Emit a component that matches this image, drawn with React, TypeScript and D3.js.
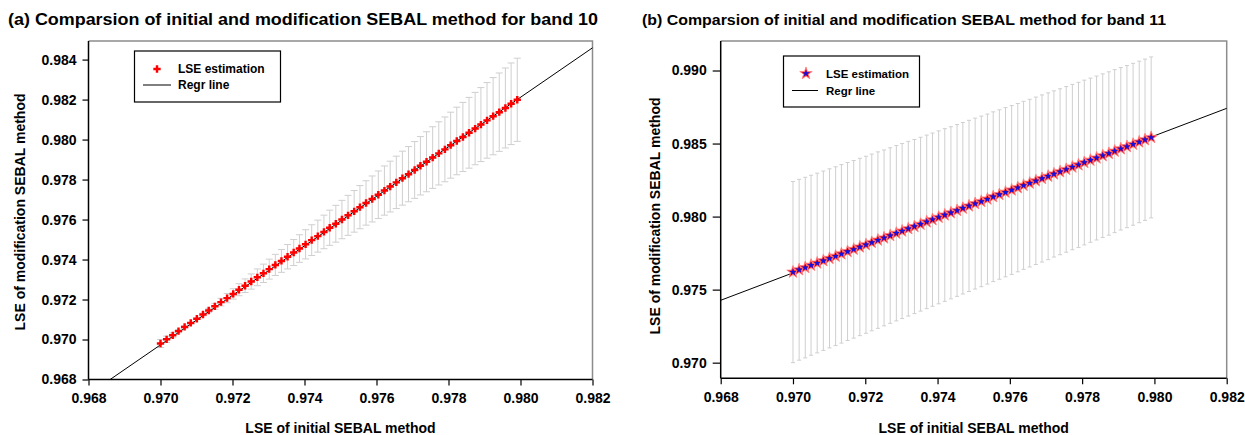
import React, { useEffect, useRef } from 'react';
import * as d3 from 'd3';

// LSE of the initial SEBAL method (x, same range in both panels)
const initialLse = [
  0.97, 0.97017, 0.97034, 0.9705, 0.97067, 0.97084, 0.97101, 0.97118, 0.97134, 0.97151,
  0.97168, 0.97185, 0.97202, 0.97218, 0.97235, 0.97252, 0.97269, 0.97286, 0.97302, 0.97319,
  0.97336, 0.97353, 0.9737, 0.97386, 0.97403, 0.9742, 0.97437, 0.97454, 0.9747, 0.97487,
  0.97504, 0.97521, 0.97538, 0.97554, 0.97571, 0.97588, 0.97605, 0.97622, 0.97638, 0.97655,
  0.97672, 0.97689, 0.97706, 0.97722, 0.97739, 0.97756, 0.97773, 0.9779, 0.97806, 0.97823,
  0.9784, 0.97857, 0.97874, 0.9789, 0.97907, 0.97924, 0.97941, 0.97958, 0.97974, 0.97991,
];

// band 10: modified SEBAL LSE and error half-widths
const band10Lse = [
  0.9698, 0.97001, 0.97021, 0.97042, 0.97063, 0.97083, 0.97104, 0.97125, 0.97145, 0.97166,
  0.97187, 0.97207, 0.97228, 0.97249, 0.97269, 0.9729, 0.97311, 0.97331, 0.97352, 0.97373,
  0.97393, 0.97414, 0.97435, 0.97455, 0.97476, 0.97497, 0.97517, 0.97538, 0.97559, 0.97579,
  0.976, 0.97621, 0.97641, 0.97662, 0.97683, 0.97703, 0.97724, 0.97745, 0.97765, 0.97786,
  0.97807, 0.97827, 0.97848, 0.97869, 0.97889, 0.9791, 0.97931, 0.97951, 0.97972, 0.97993,
  0.98013, 0.98034, 0.98055, 0.98075, 0.98096, 0.98117, 0.98137, 0.98158, 0.98179, 0.98199,
];
const band10Err = [
  0.0002, 0.00016, 0.00012, 0.00008, 0.00005, 0.00001, 0.00003, 0.00007, 0.00011, 0.00015,
  0.00019, 0.00023, 0.00026, 0.0003, 0.00034, 0.00038, 0.00042, 0.00046, 0.0005, 0.00053,
  0.00057, 0.00061, 0.00065, 0.00069, 0.00073, 0.00077, 0.0008, 0.00084, 0.00088, 0.00092,
  0.00096, 0.001, 0.00104, 0.00108, 0.00111, 0.00115, 0.00119, 0.00123, 0.00127, 0.00131,
  0.00135, 0.00138, 0.00142, 0.00146, 0.0015, 0.00154, 0.00158, 0.00162, 0.00165, 0.00169,
  0.00173, 0.00177, 0.00181, 0.00185, 0.00189, 0.00193, 0.00196, 0.002, 0.00204, 0.00208,
];

// band 11
const band11Lse = [
  0.9762, 0.97636, 0.97651, 0.97667, 0.97682, 0.97698, 0.97714, 0.97729, 0.97745, 0.97761,
  0.97776, 0.97792, 0.97807, 0.97823, 0.97839, 0.97854, 0.9787, 0.97886, 0.97901, 0.97917,
  0.97932, 0.97948, 0.97964, 0.97979, 0.97995, 0.98011, 0.98026, 0.98042, 0.98057, 0.98073,
  0.98089, 0.98104, 0.9812, 0.98136, 0.98151, 0.98167, 0.98182, 0.98198, 0.98214, 0.98229,
  0.98245, 0.98261, 0.98276, 0.98292, 0.98307, 0.98323, 0.98339, 0.98354, 0.9837, 0.98386,
  0.98401, 0.98417, 0.98432, 0.98448, 0.98464, 0.98479, 0.98495, 0.98511, 0.98526, 0.98542,
];
const band11Err = [
  0.0062, 0.00619, 0.00618, 0.00616, 0.00615, 0.00614, 0.00613, 0.00612, 0.00611, 0.00609,
  0.00608, 0.00607, 0.00606, 0.00605, 0.00604, 0.00602, 0.00601, 0.006, 0.00599, 0.00598,
  0.00596, 0.00595, 0.00594, 0.00593, 0.00592, 0.00591, 0.00589, 0.00588, 0.00587, 0.00586,
  0.00585, 0.00584, 0.00582, 0.00581, 0.0058, 0.00579, 0.00578, 0.00576, 0.00575, 0.00574,
  0.00573, 0.00572, 0.00571, 0.00569, 0.00568, 0.00567, 0.00566, 0.00565, 0.00564, 0.00562,
  0.00561, 0.0056, 0.00559, 0.00558, 0.00556, 0.00555, 0.00554, 0.00553, 0.00552, 0.00551,
];

// regression line end points
const regrXA = [0.9686, 0.982];
const regrYA = [0.968, 0.98459];
const regrXB = [0.968, 0.982];
const regrYB = [0.97427, 0.98741];

const xTicks = [0.968, 0.97, 0.972, 0.974, 0.976, 0.978, 0.98, 0.982];
const yTicksA = [0.968, 0.97, 0.972, 0.974, 0.976, 0.978, 0.98, 0.982, 0.984];
const yTicksB = [0.97, 0.975, 0.98, 0.985, 0.99];

const FONT = '"Liberation Sans", Arial, sans-serif';

function drawPanel(svg, cfg) {
  const g = svg.append('g');
  const x = d3.scaleLinear().domain([0.968, 0.982]).range([cfg.left, cfg.right]);
  const y = d3.scaleLinear().domain(cfg.yDomain).range([cfg.bottom, cfg.top]);

  // title
  g.append('text')
    .attr('x', cfg.titleX)
    .attr('y', 25)
    .attr('font-size', cfg.titleSize)
    .attr('font-weight', 'bold')
    .attr('textLength', cfg.titleLen)
    .attr('lengthAdjust', 'spacingAndGlyphs')
    .text(cfg.title);

  // top / right frame (gray)
  g.append('path')
    .attr('d', `M${cfg.left},${cfg.top}H${cfg.right}V${cfg.bottom}`)
    .attr('fill', 'none')
    .attr('stroke', '#8c8c8c')
    .attr('stroke-width', 1.5);

  // error bars
  const bars = g.append('g').attr('stroke', '#cfcfcf').attr('stroke-width', 1);
  cfg.xs.forEach((xv, i) => {
    const yv = cfg.ys[i];
    const e = cfg.err[i];
    const px = x(xv);
    const y0 = y(yv - e);
    const y1 = y(yv + e);
    bars.append('line').attr('x1', px).attr('x2', px).attr('y1', y0).attr('y2', y1);
    bars.append('line').attr('x1', px - cfg.cap).attr('x2', px + cfg.cap).attr('y1', y0).attr('y2', y0);
    bars.append('line').attr('x1', px - cfg.cap).attr('x2', px + cfg.cap).attr('y1', y1).attr('y2', y1);
  });

  // regression line
  g.append('line')
    .attr('x1', x(cfg.regrX[0]))
    .attr('y1', y(cfg.regrY[0]))
    .attr('x2', x(cfg.regrX[1]))
    .attr('y2', y(cfg.regrY[1]))
    .attr('stroke', '#000')
    .attr('stroke-width', 1);

  // points
  const pts = g.append('g');
  cfg.xs.forEach((xv, i) => {
    cfg.drawMarker(pts, x(xv), y(cfg.ys[i]));
  });

  // axes
  const ax = g
    .append('g')
    .attr('transform', `translate(0,${cfg.bottom})`)
    .call(d3.axisBottom(x).tickValues(xTicks).tickFormat(d3.format('.3f')).tickSize(6).tickSizeOuter(0).tickPadding(8));
  const ay = g
    .append('g')
    .attr('transform', `translate(${cfg.left},0)`)
    .call(d3.axisLeft(y).tickValues(cfg.yTicks).tickFormat(d3.format('.3f')).tickSize(cfg.yTickSize).tickSizeOuter(0).tickPadding(6));
  [ax, ay].forEach(a => {
    a.select('.domain').attr('stroke', '#000').attr('stroke-width', 1.5);
    a.selectAll('.tick line').attr('stroke', '#000').attr('stroke-width', 1.2);
    a.selectAll('text')
      .attr('font-family', FONT)
      .attr('font-size', 14)
      .attr('font-weight', 'bold')
      .attr('fill', '#000');
  });
  ay.select('.domain').attr('d', `M0,${cfg.top}V${cfg.bottom}`);
  ax.select('.domain').attr('d', `M${cfg.left},0H${cfg.right}`);

  // axis titles
  g.append('text')
    .attr('x', (cfg.left + cfg.right) / 2)
    .attr('y', 433)
    .attr('text-anchor', 'middle')
    .attr('font-size', 14)
    .attr('font-weight', 'bold')
    .text('LSE of initial SEBAL method');
  g.append('text')
    .attr('transform', `translate(${cfg.yTitleX},${cfg.yTitleY}) rotate(-90)`)
    .attr('text-anchor', 'middle')
    .attr('font-size', 14)
    .attr('font-weight', 'bold')
    .text('LSE of modification SEBAL method');

  // legend
  const L = cfg.legend;
  g.append('rect')
    .attr('x', L.x)
    .attr('y', L.y)
    .attr('width', L.w)
    .attr('height', L.h)
    .attr('fill', '#fff')
    .attr('stroke', '#000')
    .attr('stroke-width', 1.2);
  cfg.drawMarker(g, L.markerX, L.row1);
  g.append('line')
    .attr('x1', L.lineX0)
    .attr('x2', L.lineX1)
    .attr('y1', L.row2)
    .attr('y2', L.row2)
    .attr('stroke', '#000');
  g.append('text')
    .attr('x', L.textX)
    .attr('y', L.row1)
    .attr('dy', '0.35em')
    .attr('font-size', L.fs)
    .attr('font-weight', 'bold')
    .text('LSE estimation');
  g.append('text')
    .attr('x', L.textX)
    .attr('y', L.row2)
    .attr('dy', '0.35em')
    .attr('font-size', L.fs)
    .attr('font-weight', 'bold')
    .text('Regr line');
}

const crossPath = d3.symbol().type(d3.symbolCross).size(30)();
const starBig = d3.symbol().type(d3.symbolStar).size(48)();
const starSmall = d3.symbol().type(d3.symbolStar).size(16)();

function plusMarker(sel, px, py) {
  sel.append('path').attr('d', crossPath).attr('transform', `translate(${px},${py})`).attr('fill', '#ff0000');
}

function starMarker(sel, px, py) {
  sel
    .append('path')
    .attr('d', starBig)
    .attr('transform', `translate(${px},${py})`)
    .attr('fill', '#ff1a1a')
    .attr('stroke', '#ff8080')
    .attr('stroke-width', 0.8);
  sel.append('path').attr('d', starSmall).attr('transform', `translate(${px},${py})`).attr('fill', '#1010e0');
}

export default function App() {
  const ref = useRef(null);

  useEffect(() => {
    const svg = d3.select(ref.current);
    svg.selectAll('*').remove();

    drawPanel(svg, {
      title: '(a) Comparsion of initial and modification SEBAL method for band 10',
      titleX: 8,
      titleSize: 16,
      titleLen: 590,
      left: 88.5,
      right: 592.5,
      top: 41,
      bottom: 379.5,
      yDomain: [0.968, 0.98493],
      yTicks: yTicksA,
      yTickSize: 6,
      xs: initialLse,
      ys: band10Lse,
      err: band10Err,
      cap: 3.5,
      regrX: regrXA,
      regrY: regrYA,
      yTitleX: 25,
      yTitleY: 212,
      drawMarker: plusMarker,
      legend: {
        x: 134.5, y: 51, w: 146, h: 51,
        markerX: 157, row1: 69, row2: 85,
        lineX0: 143, lineX1: 171, textX: 178, fs: 12,
      },
    });

    drawPanel(svg, {
      title: '(b) Comparsion of initial and modification SEBAL method for band 11',
      titleX: 642,
      titleSize: 14,
      titleLen: 524,
      left: 720.7,
      right: 1226.7,
      top: 41,
      bottom: 378.3,
      yDomain: [0.96893, 0.99202],
      yTicks: yTicksB,
      yTickSize: 8,
      xs: initialLse,
      ys: band11Lse,
      err: band11Err,
      cap: 2,
      regrX: regrXB,
      regrY: regrYB,
      yTitleX: 660,
      yTitleY: 216,
      drawMarker: starMarker,
      legend: {
        x: 783.5, y: 56, w: 136, h: 51,
        markerX: 806, row1: 73.5, row2: 90.5,
        lineX0: 792, lineX1: 818, textX: 826, fs: 11.5,
      },
    });
  }, []);

  return (
    <svg
      ref={ref}
      width={1245}
      height={435}
      style={{ position: 'absolute', left: 0, top: 0, background: '#fff', fontFamily: FONT }}
    />
  );
}
